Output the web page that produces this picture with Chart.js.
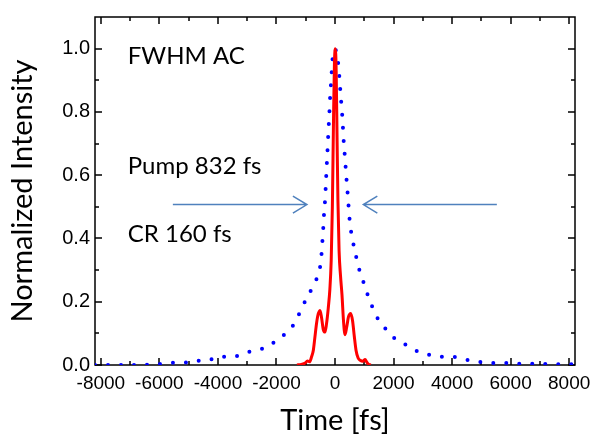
<!DOCTYPE html>
<html>
<head>
<meta charset="utf-8">
<script src="https://cdn.jsdelivr.net/npm/chart.js@4.4.0/dist/chart.umd.min.js"></script>
<style>
  html, body { margin: 0; background: #fff; }
  #wrap { width: 602px; height: 448px; }
</style>
</head>
<body>
<div id="wrap"><canvas id="acChart"></canvas></div>
<script>
// pump autocorrelation (blue dotted)
const pumpTime = [-8200, -7600, -7000, -6400, -5870, -5500, -5200, -4800, -4580, -4130, -3930, -3440,
  -3220, -2850, -2470, -2160, -1880, -1710, -1480, -1300, -1140, -980, -800, -630, -513, -462, -430, -400,
  -376, -342, -318, -297, -274, -250, -229, -205, -181, -161, -126, -103, -58, 0, 58, 127,
  161, 195, 229, 263, 284, 318, 352, 386, 421, 455, 489, 537, 615, 707, 797, 912,
  1048, 1163, 1322, 1470, 1686, 1904, 2164, 2506, 2804, 3191, 3556, 4011, 4400, 4787, 5300, 5754,
  6154, 6600, 7200, 7800, 8200];
const pumpValue = [0, 0, 0, 0.001, 0.004, 0.007, 0.008, 0.009, 0.016, 0.019, 0.026, 0.027,
  0.033, 0.044, 0.052, 0.067, 0.086, 0.098, 0.119, 0.147, 0.179, 0.209, 0.24, 0.272, 0.308, 0.349, 0.392, 0.434,
  0.476, 0.518, 0.561, 0.602, 0.646, 0.69, 0.731, 0.774, 0.817, 0.858, 0.902, 0.944, 0.988, 1.0, 0.982, 0.938,
  0.895, 0.852, 0.81, 0.767, 0.726, 0.682, 0.64, 0.596, 0.555, 0.513, 0.47, 0.43, 0.389, 0.349, 0.313, 0.277,
  0.244, 0.207, 0.175, 0.145, 0.119, 0.095, 0.076, 0.06, 0.044, 0.033, 0.026, 0.026, 0.018, 0.012, 0.006, 0.007,
  0.004, 0.004, 0.003, 0.002, 0.002];

// CR autocorrelation (red)
const crTime = [-1300, -1150, -1020, -940, -870, -800, -740, -690, -640, -590, -513, -460,
  -400, -342, -290, -230, -175, -130, -90, -50, -20, 10, 40, 70,
  100, 140, 190, 240, 290, 342, 400, 460, 537, 600, 660, 718,
  790, 860, 950, 1030, 1080, 1140, 1220];
const crValue = [0, 0.002, 0.006, 0.013, 0.01, 0.026, 0.047, 0.085, 0.125, 0.155, 0.172, 0.15,
  0.112, 0.104, 0.13, 0.18, 0.24, 0.33, 0.5, 0.78, 0.95, 1.0, 0.93, 0.72,
  0.52, 0.36, 0.28, 0.22, 0.14, 0.096, 0.12, 0.152, 0.163, 0.14, 0.09, 0.047,
  0.022, 0.015, 0.012, 0.017, 0.01, 0.003, 0];

// axis ticks: majors get a label, minors only a short mark
const xTicks = [-8000, -7000, -6000, -5000, -4000, -3000, -2000, -1000, 0,
  1000, 2000, 3000, 4000, 5000, 6000, 7000, 8000];
const xLabels = ["-8000", "", "-6000", "", "-4000", "", "-2000", "", "0",
  "", "2000", "", "4000", "", "6000", "", "8000"];
const yTicks = [0, 0.1, 0.2, 0.3, 0.4, 0.5, 0.6, 0.7, 0.8, 0.9, 1.0];
const yLabels = ["0.0", "", "0.2", "", "0.4", "", "0.6", "", "0.8", "", "1.0"];

const noteText = ["FWHM AC", "Pump 832 fs", "CR 160 fs"];
const noteX = [-7080, -7080, -7080];
const noteY = [0.952, 0.605, 0.389];

const arrowTail = [-5540, 5530];
const arrowTip = [-960, 968];
const arrowY = 0.507;

const toPoints = (xs, ys) => xs.map((x, i) => ({ x, y: ys[i] }));

const framePlugin = {
  id: "frame",
  beforeDatasetsDraw(chart) {
    const { ctx, chartArea: a } = chart;
    const x = chart.scales.x, y = chart.scales.y;
    ctx.save();
    ctx.strokeStyle = "#000";
    ctx.lineWidth = 1.5;
    ctx.strokeRect(a.left, a.top, a.right - a.left, a.bottom - a.top);
    ctx.beginPath();
    xTicks.forEach((v, i) => {
      const len = xLabels[i] ? 7 : 4;
      const px = Math.round(x.getPixelForValue(v));
      ctx.moveTo(px, a.bottom); ctx.lineTo(px, a.bottom - len);
      ctx.moveTo(px, a.top); ctx.lineTo(px, a.top + len);
    });
    yTicks.forEach((v, i) => {
      const len = yLabels[i] ? 7 : 4;
      const py = Math.round(y.getPixelForValue(v));
      ctx.moveTo(a.left, py); ctx.lineTo(a.left + len, py);
      ctx.moveTo(a.right, py); ctx.lineTo(a.right - len, py);
    });
    ctx.stroke();
    ctx.restore();
  },
  afterDatasetsDraw(chart) {
    const { ctx } = chart;
    const x = chart.scales.x, y = chart.scales.y;
    ctx.save();
    ctx.fillStyle = "#000";
    ctx.font = "24px Lato";
    ctx.textBaseline = "alphabetic";
    noteText.forEach((s, i) => ctx.fillText(s, x.getPixelForValue(noteX[i]), y.getPixelForValue(noteY[i])));

    // arrows pointing at the curves
    ctx.strokeStyle = "#4f81bd";
    ctx.lineWidth = 1.5;
    const py = y.getPixelForValue(arrowY);
    arrowTail.forEach((t, i) => {
      const x0 = x.getPixelForValue(t);
      const x1 = x.getPixelForValue(arrowTip[i]);
      const dir = Math.sign(x1 - x0);
      ctx.beginPath();
      ctx.moveTo(x0, py); ctx.lineTo(x1, py);
      ctx.moveTo(x1 - dir * 14, py - 8.5); ctx.lineTo(x1, py); ctx.lineTo(x1 - dir * 14, py + 8.5);
      ctx.stroke();
    });
    ctx.restore();
  }
};

new Chart(document.getElementById("acChart"), {
  type: "line",
  data: {
    datasets: [
      {
        data: toPoints(crTime, crValue),
        borderColor: "#ff0000",
        borderWidth: 3,
        pointRadius: 0,
        cubicInterpolationMode: "monotone",
      },
      {
        data: toPoints(pumpTime, pumpValue),
        borderColor: "#0000ff",
        borderWidth: 4,
        borderDash: [0, 13],
        borderCapStyle: "round",
        pointRadius: 0,
        cubicInterpolationMode: "monotone",
      },
    ],
  },
  options: {
    responsive: true,
    maintainAspectRatio: false,
    devicePixelRatio: 1,
    animation: false,
    layout: { padding: { top: 12, right: 27, left: 0, bottom: 0 } },
    plugins: { legend: { display: false }, tooltip: { enabled: false } },
    scales: {
      x: {
        type: "linear",
        min: -8200,
        max: 8200,
        grid: { display: false, drawTicks: false },
        border: { display: false },
        afterBuildTicks: s => { s.ticks = xTicks.map(v => ({ value: v })); },
        ticks: {
          autoSkip: false,
          maxRotation: 0,
          padding: 7,
          color: "#000",
          font: { family: "Liberation Sans", size: 19 },
          callback: (v, i) => xLabels[i],
        },
        title: {
          display: true,
          text: "Time [fs]",
          color: "#000",
          font: { family: "Lato", size: 29 },
          padding: { top: 0, bottom: 10 },
        },
        afterFit: s => { s.height = 83; },
      },
      y: {
        min: 0,
        max: 1.1,
        grid: { display: false, drawTicks: false },
        border: { display: false },
        afterBuildTicks: s => { s.ticks = yTicks.map(v => ({ value: v })); },
        ticks: {
          autoSkip: false,
          padding: 5,
          color: "#000",
          font: { family: "Liberation Sans", size: 20 },
          callback: (v, i) => yLabels[i],
        },
        title: {
          display: true,
          text: "Normalized Intensity",
          color: "#000",
          font: { family: "Lato", size: 29 },
          padding: { top: 5, bottom: 0 },
        },
        afterFit: s => { s.width = 95; },
      },
    },
  },
  plugins: [framePlugin],
});
</script>
</body>
</html>
